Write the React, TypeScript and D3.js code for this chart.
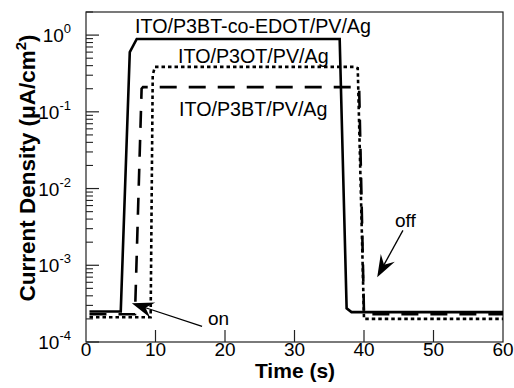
import React from "react";
import * as d3 from "d3";

const W = 514;
const H = 388;
const M = { left: 86, top: 12, right: 11, bottom: 46 };

// Series: time (s) and current density (µA/cm²)
const edotT = [0.5, 5.0, 6.3, 7.3, 36.5, 37.5, 38.2, 60];
const edotY = [2.5e-4, 2.5e-4, 0.6, 0.89, 0.89, 2.75e-4, 2.45e-4, 2.45e-4];

const p3otT = [0.5, 9.3, 9.6, 9.9, 38.6, 39.1, 40.0, 60];
const p3otY = [2.1e-4, 2.1e-4, 0.3, 0.385, 0.385, 0.37, 2.0e-4, 2.0e-4];

const p3btT = [0.5, 7.05, 8.0, 8.2, 39.3, 40.0, 60];
const p3btY = [2.3e-4, 2.3e-4, 0.2, 0.21, 0.21, 2.3e-4, 2.3e-4];

const xTicks = [0, 10, 20, 30, 40, 50, 60];
const yExps = [-4, -3, -2, -1, 0];

const labelEdot = "ITO/P3BT-co-EDOT/PV/Ag";
const labelP3ot = "ITO/P3OT/PV/Ag";
const labelP3bt = "ITO/P3BT/PV/Ag";

export default function App() {
  const x = d3.scaleLinear().domain([0, 60]).range([M.left, W - M.right]);
  const y = d3.scaleLog().domain([1e-4, 2]).range([H - M.bottom, M.top]);
  const line = d3
    .line<[number, number]>()
    .x((d) => x(d[0]))
    .y((d) => y(d[1]));

  const zip = (a: number[], b: number[]) => a.map((t, i) => [t, b[i]] as [number, number]);

  const minor: number[] = [];
  for (let e = -4; e < 0.31; e++) {
    for (let k = 2; k <= 9; k++) {
      const v = k * Math.pow(10, e);
      if (v <= 2) minor.push(v);
    }
  }

  const arrow = (tail: [number, number], tip: [number, number]) => {
    const tx = x(tip[0]), ty = y(tip[1]);
    const sx = x(tail[0]), sy = y(tail[1]);
    const dx = sx - tx, dy = sy - ty;
    const len = Math.hypot(dx, dy);
    const ux = dx / len, uy = dy / len;
    const nx = -uy, ny = ux;
    const L = 22, w = 8;
    const pts = [
      [tx, ty],
      [tx + ux * L + nx * w, ty + uy * L + ny * w],
      [tx + ux * L * 0.65, ty + uy * L * 0.65],
      [tx + ux * L - nx * w, ty + uy * L - ny * w],
    ];
    return (
      <g>
        <line x1={sx} y1={sy} x2={tx + ux * 12} y2={ty + uy * 12} stroke="#000" strokeWidth={1.3} />
        <polygon points={pts.map((p) => p.join(",")).join(" ")} fill="#000" />
      </g>
    );
  };

  const font = "'Liberation Sans', Arial, Helvetica, sans-serif";
  const x0 = M.left, x1 = W - M.right, y0 = H - M.bottom, y1 = M.top;

  return (
    <svg
      width={W}
      height={H}
      style={{ position: "absolute", left: 0, top: 0, background: "#fff" }}
      fontFamily={font}
    >
      <rect x={0} y={0} width={W} height={H} fill="#fff" />
      {/* frame */}
      <rect x={x0} y={y1} width={x1 - x0} height={y0 - y1} fill="none" stroke="#222" strokeWidth={1.2} />

      {/* y ticks */}
      {yExps.map((e) => (
        <line key={"yM" + e} x1={x0} x2={x0 + 13} y1={y(Math.pow(10, e))} y2={y(Math.pow(10, e))} stroke="#222" strokeWidth={1.2} />
      ))}
      {minor.map((v, i) => (
        <line key={"ym" + i} x1={x0} x2={x0 + 7} y1={y(v)} y2={y(v)} stroke="#222" strokeWidth={1.1} />
      ))}
      {yExps.map((e) => (
        <text key={"yl" + e} x={71} y={y(Math.pow(10, e)) + 7} textAnchor="end" fontSize={19} fill="#000">
          10
          <tspan fontSize={13} dy={-9}>{e === 0 ? "0" : "-" + Math.abs(e)}</tspan>
        </text>
      ))}

      {/* x ticks */}
      {xTicks.map((t) => (
        <g key={"x" + t}>
          {t > 0 && t < 60 && (
            <line x1={x(t)} x2={x(t)} y1={y0} y2={y0 - 12} stroke="#222" strokeWidth={1.2} />
          )}
          <text x={x(t)} y={356} textAnchor="middle" fontSize={19} fill="#000">
            {t}
          </text>
        </g>
      ))}

      {/* axis titles */}
      <text x={295} y={378} textAnchor="middle" fontSize={21} fontWeight="bold" fill="#000">
        Time (s)
      </text>
      <text
        transform={`translate(35,168) rotate(-90)`}
        textAnchor="middle"
        fontSize={22.5}
        fontWeight="bold"
        fill="#000"
      >
        Current Density (μA/cm
        <tspan fontSize={15} dy={-9}>2</tspan>
        <tspan dy={9}>)</tspan>
      </text>

      {/* curves */}
      <path d={line(zip(edotT, edotY)) || ""} fill="none" stroke="#000" strokeWidth={2.6} strokeLinejoin="miter" />
      <path d={line(zip(p3btT, p3btY)) || ""} fill="none" stroke="#000" strokeWidth={2.6} strokeDasharray="17,12" />
      <path d={line(zip(p3otT, p3otY)) || ""} fill="none" stroke="#000" strokeWidth={2.6} strokeDasharray="3.5,3" />

      {/* curve labels */}
      <text x={135} y={33} fontSize={19.7} fill="#000">{labelEdot}</text>
      <text x={178} y={63} fontSize={19.7} fill="#000">{labelP3ot}</text>
      <text x={179} y={116} fontSize={19.7} fill="#000">{labelP3bt}</text>

      {/* annotations */}
      {arrow([16.7, 1.6e-4], [6.6, 3.2e-4])}
      <text x={208} y={325} fontSize={19} fill="#000">on</text>
      {arrow([45.6, 2.85e-3], [41.9, 7.0e-4])}
      <text x={395} y={227} fontSize={19} fill="#000">off</text>
    </svg>
  );
}
